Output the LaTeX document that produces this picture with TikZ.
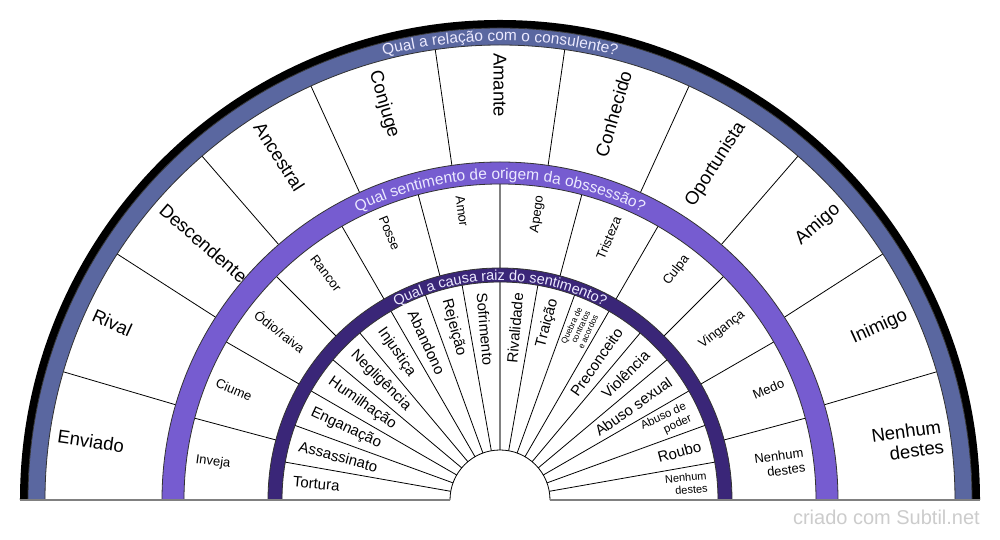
\documentclass[tikz,border=0pt]{standalone}
\usepackage{fontspec}
\setmainfont{Liberation Sans}
\usepackage{tikz}
\usetikzlibrary{decorations.text}
\definecolor{BandOuter}{HTML}{5A67A0}
\definecolor{BandMiddle}{HTML}{765CD0}
\definecolor{BandInner}{HTML}{3A2678}
\definecolor{TitleText}{HTML}{ECEAFF}
\definecolor{Credit}{HTML}{CCCCCC}
\tikzset{%
	band/.style={
		draw=black!80,
		line width=0.8pt
	},
	band-outer/.style={ fill=BandOuter },
	band-middle/.style={ fill=BandMiddle },
	band-inner/.style={ fill=BandInner },
	spoke/.style={ draw=black, line width=0.8pt },
	spoke-axis/.style={ draw=gray, line width=1.6pt },
	slice/.style={
		inner sep=0pt,
		text=black
	},
	slice-left/.style={ anchor=west, align=left },
	slice-right/.style={ anchor=east, align=right },
	slice-outer/.style={ font=\fontsize{18.5}{20.5}\selectfont },
	slice-middle/.style={ font=\fontsize{13}{15}\selectfont },
	slice-inner/.style={ font=\fontsize{15}{17}\selectfont },
	cause-12/.style={ font=\fontsize{8.3}{8.8}\selectfont },
	cause-16/.style={ font=\fontsize{11.5}{13}\selectfont },
	cause-18/.style={ font=\fontsize{11}{12.5}\selectfont },
	credit/.style={ text=Credit, font=\fontsize{20}{23}\selectfont, inner sep=0pt },
}

\begin{document}
\begin{tikzpicture}[x=1pt, y=1pt]
\fill[white] (-500,-40) rectangle (500,500);
\useasboundingbox (-500,-40) rectangle (500,500);

% spokes
\foreach \k in {1,...,10}
	\draw[spoke] ({180-\k*180/11}:338) -- ({180-\k*180/11}:455);
\foreach \k in {1,...,5,7,8,...,11}
	\draw[spoke] ({180-\k*15}:232) -- ({180-\k*15}:316);
\foreach \k in {1,...,8,10,11,...,17}
	\draw[spoke] ({180-\k*10}:50) -- ({180-\k*10}:218);
\draw[spoke-axis] (90:232) -- (90:316);
\draw[spoke-axis] (90:50) -- (90:218);

% bands
\fill[black] (180:472) arc[start angle=180, end angle=0, radius=472pt]
	-- (0:480) arc[start angle=0, end angle=180, radius=480pt] -- cycle;
\draw[band, band-outer] (180:455) arc[start angle=180, end angle=0, radius=455pt]
	-- (0:472) arc[start angle=0, end angle=180, radius=472pt] -- cycle;
\draw[band, band-middle] (180:316) arc[start angle=180, end angle=0, radius=316pt]
	-- (0:338) arc[start angle=0, end angle=180, radius=338pt] -- cycle;
\draw[band, band-inner] (180:218) arc[start angle=180, end angle=0, radius=218pt]
	-- (0:232) arc[start angle=0, end angle=180, radius=232pt] -- cycle;
\draw[spoke] (0:50) arc[start angle=0, end angle=180, radius=50pt];
\draw[gray, line width=2pt] (-480,0) -- (-50,0) (50,0) -- (480,0);

% relation labels
\foreach \l [count=\i, evaluate=\i as \a using 180-(\i-0.5)*180/11] in {Enviado, Rival, Descendente, Ancestral, Conjuge, Amante}
	\node[slice, slice-outer, slice-left, rotate=\a-180] (rel-\i) at (\a:447) {\l};
\foreach \l [count=\i from 7, evaluate=\i as \a using 180-(\i-0.5)*180/11] in {Conhecido, Oportunista, Amigo, Inimigo, {Nenhum\\destes}}
	\node[slice, slice-outer, slice-right, rotate=\a] (rel-\i) at (\a:447) {\l};

% feeling labels
\foreach \l [count=\i, evaluate=\i as \a using 180-(\i-0.5)*15] in {Inveja, Ciume, Ódio/raiva, Rancor, Posse, Amor}
	\node[slice, slice-middle, slice-left, rotate=\a-180] (feel-\i) at (\a:307) {\l};
\foreach \l [count=\i from 7, evaluate=\i as \a using 180-(\i-0.5)*15] in {Apego, Tristeza, Culpa, Vingança, Medo, {Nenhum\\destes}}
	\node[slice, slice-middle, slice-right, rotate=\a] (feel-\i) at (\a:307) {\l};

% cause labels
\foreach \l [count=\i, evaluate=\i as \a using 180-(\i-0.5)*10] in {Tortura, Assassinato, Enganação, Humilhação, Negligência, Injustiça, Abandono, Rejeição, Sofrimento}
	\node[slice, slice-inner, slice-left, rotate=\a-180] (cause-\i) at (\a:208) {\l};
\foreach \l [count=\i from 10, evaluate=\i as \a using 180-(\i-0.5)*10] in {Rivalidade, Traição, {Quebra de\\contratos\\e acordos}, Preconceito, Violência, Abuso sexual, {Abuso de\\poder}, Roubo, {Nenhum\\destes}}
	\node[slice, slice-inner, cause-\i/.try, slice-right, rotate=\a] (cause-\i) at (\a:208) {\l};

% ring titles
\path[decorate, decoration={text along path, text align=center,
	text={|\color{TitleText}\fontsize{15.5}{18}\selectfont|Qual a relação com o consulente?}}]
	(180:459) arc[start angle=180, end angle=0, radius=459pt];
\path[decorate, decoration={text along path, text align=center,
	text={|\color{TitleText}\fontsize{15.5}{18}\selectfont|Qual sentimento de origem da obssessão?}}]
	(180:321) arc[start angle=180, end angle=0, radius=321pt];
\path[decorate, decoration={text along path, text align=center,
	text={|\color{TitleText}\fontsize{14.5}{17}\selectfont|Qual a causa raiz do sentimento?}}]
	(180:219.5) arc[start angle=180, end angle=0, radius=219.5pt];

\node[credit, anchor=base east] (credit) at (480,-25) {criado com Subtil.net};

\end{tikzpicture}
\end{document}
